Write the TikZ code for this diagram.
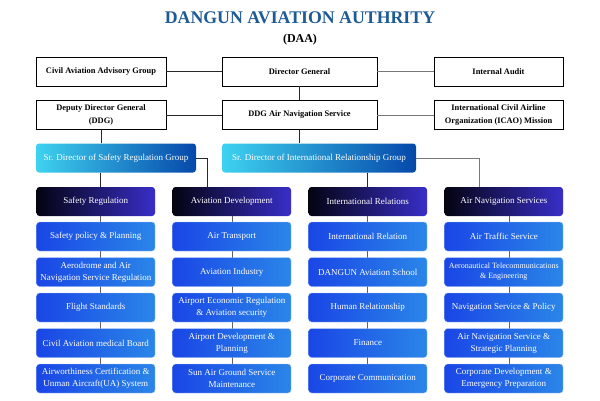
\documentclass[tikz,border=0pt]{standalone}
\usepackage{fontspec}
\setmainfont{Liberation Serif}
\usetikzlibrary{calc}
\definecolor{titleblue}{RGB}{30,90,150}
\definecolor{srL}{RGB}{62,210,240}
\definecolor{srR}{RGB}{6,72,170}
\definecolor{hdL}{RGB}{4,4,18}
\definecolor{hdR}{RGB}{56,46,200}
\definecolor{sbL}{RGB}{26,70,230}
\definecolor{sbR}{RGB}{42,134,232}
\definecolor{sbEdge}{RGB}{170,200,245}
\definecolor{lnDark}{RGB}{40,40,40}
\definecolor{lnGray}{RGB}{120,120,120}
\tikzset{
  topbox/.style={draw=black, line width=0.9pt, fill=white, minimum height=29pt,
    font=\fontsize{8.4}{12.5}\selectfont\bfseries, align=center, inner sep=1pt},
  srbox/.style={rounded corners=3pt, left color=srL, right color=srR, text=white,
    minimum height=29pt, font=\fontsize{9}{12}\selectfont, align=center, inner sep=1pt},
  hdbox/.style={rounded corners=3pt, left color=hdL, right color=hdR, text=white,
    minimum width=118.5pt, minimum height=29pt, font=\fontsize{9}{12}\selectfont, align=center, inner sep=1pt},
  sbbox/.style={rounded corners=3pt, left color=sbL, right color=sbR, draw=sbEdge, line width=0.4pt, text=white,
    minimum width=118.5pt, minimum height=29pt, font=\fontsize{9}{12}\selectfont, align=center, inner sep=1pt},
  dk/.style={draw=lnDark, line width=0.8pt},
  gy/.style={draw=lnGray, line width=0.8pt},
}
\begin{document}
\begin{tikzpicture}[x=1pt,y=-1pt]
\useasboundingbox (0,0) rectangle (600,400);
% title
\node (title) at (300,18) {\fontsize{17.8}{20}\selectfont\bfseries\color{titleblue}DANGUN AVIATION AUTHRITY};
\node (daa) at (300,40) {\fontsize{12}{14}\selectfont\bfseries (DAA)};
\coordinate (c1) at (100,0);
\coordinate (c2) at (232,0);
\coordinate (c3) at (367,0);
\coordinate (c4) at (509,0);
% top boxes
\node[topbox, minimum width=130pt] (civil) at (101,71.5) {Civil Aviation Advisory Group};
\node[topbox, minimum width=155pt] (dg) at (299.5,71.5) {Director General};
\node[topbox, minimum width=129pt] (ia) at (498.5,71.5) {Internal Audit};
\node[topbox, minimum width=130pt] (ddg) at (101,115) {Deputy Director General\\(DDG)};
\node[topbox, minimum width=155pt] (ddga) at (299.5,115) {DDG Air Navigation Service};
\node[topbox, minimum width=129pt] (icao) at (498.5,115) {International Civil Airline\\Organization (ICAO) Mission};
\draw[dk] (civil) -- (dg);
\draw[gy] (dg) -- (ia);
\draw[dk] (ddg) -- (ddga);
\draw[gy] (ddga) -- (icao);
\draw[dk] (dg) -- (ddga);
% senior directors
\node[srbox, minimum width=160pt] (srs) at (116,158) {Sr. Director of Safety Regulation Group};
\node[srbox, minimum width=194pt] (sri) at (319,158) {Sr. Director of International Relationship Group};
\draw[dk] (ddg.south) -- (ddg.south |- srs.north);
\draw[dk] (ddga.south) -- (ddga.south |- sri.north);
% headers
\node[hdbox] (h1) at (95.75,201.5) {Safety Regulation};
\node[hdbox] (h2) at (231.75,201.5) {Aviation Development};
\node[hdbox] (h3) at (367.75,201.5) {International Relations};
\node[hdbox] (h4) at (503.75,201.5) {Air Navigation Services};
\draw[dk] (c1 |- srs.south) -- (c1 |- h1.north);
\draw[dk] (srs.east) -| ($(h2.north)+(-24.75,0)$);
\draw[dk] (c3 |- sri.south) -- (c3 |- h3.north);
\draw[gy] (sri.east) -| ($(h4.north)+(-24.75,0)$);
% sub box positions
\foreach \col/\cx in {1/95.75,2/231.75,3/367.75,4/503.75}{
  \foreach \r/\cy in {1/236.5,2/272,3/307.5,4/343,5/378.5}{
    \coordinate (p\col\r) at (\cx,\cy);
  }
}
% vertical lines behind sub boxes
\draw[draw=lnGray!80!black, line width=0.8pt] (c1 |- h1.south) -- (c1 |- p15);
\draw[draw=lnGray!80!black, line width=0.8pt] (c2 |- h2.south) -- (c2 |- p25);
\draw[draw=lnGray!80!black, line width=0.8pt] (c3 |- h3.south) -- (c3 |- p35);
\draw[draw=lnGray!80!black, line width=0.8pt] (c4 |- h4.south) -- (c4 |- p45);
% column 1
\node[sbbox] (s11) at (p11) {Safety policy \& Planning};
\node[sbbox] (s12) at (p12) {Aerodrome and Air\\Navigation Service Regulation};
\node[sbbox] (s13) at (p13) {Flight Standards};
\node[sbbox] (s14) at (p14) {Civil Aviation medical Board};
\node[sbbox] (s15) at (p15) {Airworthiness Certification \&\\Unman Aircraft(UA) System};
% column 2
\node[sbbox] (s21) at (p21) {Air Transport};
\node[sbbox] (s22) at (p22) {Aviation Industry};
\node[sbbox] (s23) at (p23) {Airport Economic Regulation\\\& Aviation security};
\node[sbbox] (s24) at (p24) {Airport Development \&\\Planning};
\node[sbbox] (s25) at (p25) {Sun Air Ground Service\\Maintenance};
% column 3
\node[sbbox] (s31) at (p31) {International Relation};
\node[sbbox] (s32) at (p32) {DANGUN Aviation School};
\node[sbbox] (s33) at (p33) {Human Relationship};
\node[sbbox] (s34) at (p34) {Finance};
\node[sbbox] (s35) at (p35) {Corporate Communication};
% column 4
\node[sbbox] (s41) at (p41) {Air Traffic Service};
\node[sbbox, font=\fontsize{8}{10}\selectfont] (s42) at (p42) {Aeronautical Telecommunications\\\& Engineering};
\node[sbbox] (s43) at (p43) {Navigation Service \& Policy};
\node[sbbox] (s44) at (p44) {Air Navigation Service \&\\Strategic Planning};
\node[sbbox] (s45) at (p45) {Corporate Development \&\\Emergency Preparation};
\end{tikzpicture}
\end{document}
